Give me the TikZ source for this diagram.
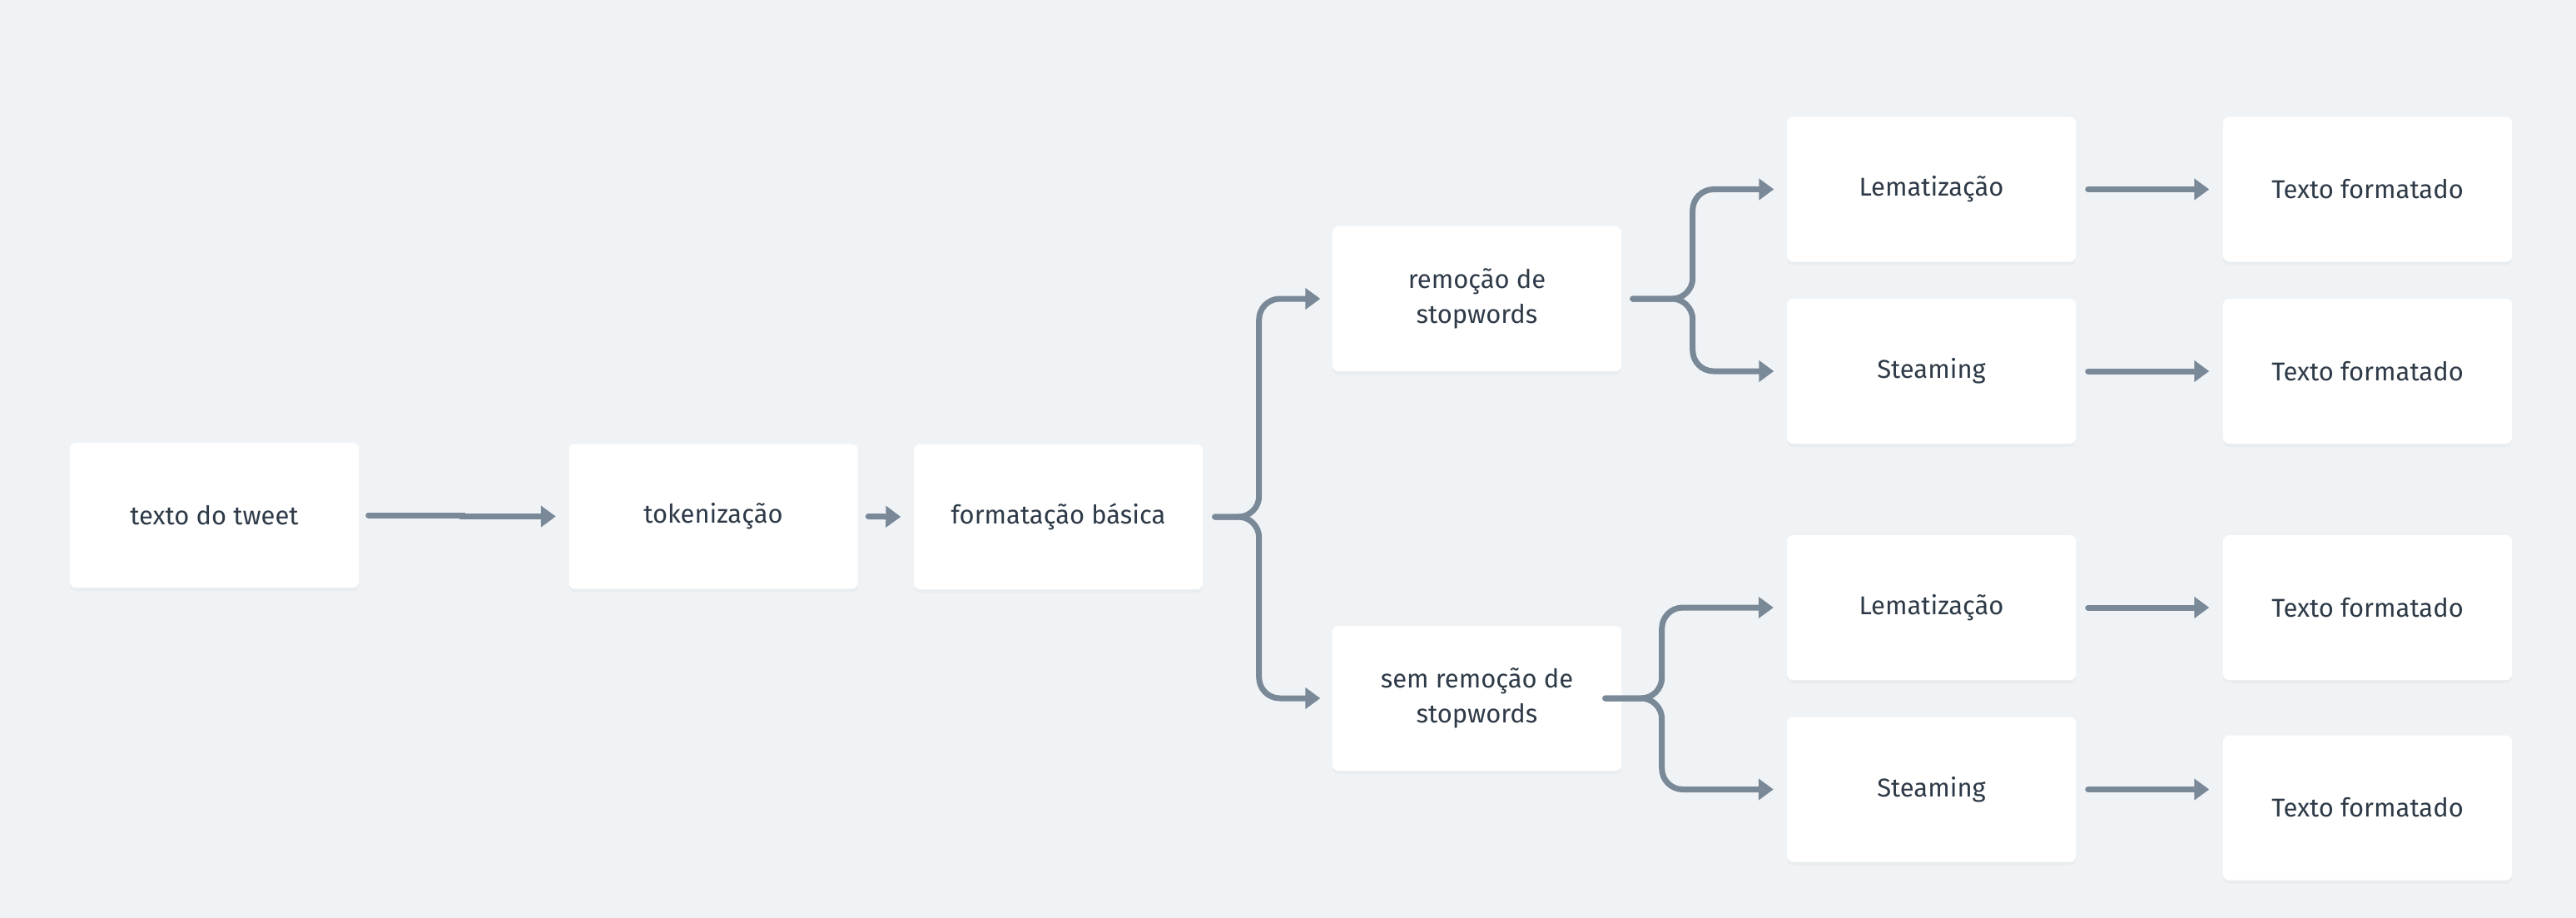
\documentclass[tikz,border=0pt]{standalone}
\usepackage{fontspec}
\setmainfont{Fira Sans}
\usetikzlibrary{arrows.meta, shadows}
\definecolor{bgcol}{HTML}{F0F3F6}
\definecolor{linecol}{HTML}{7A8997}
\definecolor{txtcol}{HTML}{2E3A47}
\begin{document}
\begin{tikzpicture}[
    box/.style={fill=white, rounded corners=0.07cm, minimum width=3.47cm, minimum height=1.74cm,
      inner sep=0pt, align=center, text=txtcol, font=\fontsize{8.8}{12}\selectfont,
      drop shadow={opacity=0.05, shadow xshift=0pt, shadow yshift=-0.04cm}},
    flow/.style={draw=linecol, line width=0.07cm, line cap=round,
      -{Triangle[length=0.18cm, width=0.25cm]}, rounded corners=0.25cm}
  ]
    % background
    \fill[bgcol] (0,0) rectangle (30.95,-11.03);
    \useasboundingbox (0,0) rectangle (30.95,-11.03);
    % boxes
    \node[box] (tweet) at (2.575,-6.19) {texto do tweet};
    \node[box] (token) at (8.57,-6.205) {tokenização};
    \node[box] (fmt) at (12.715,-6.21) {formatação básica};
    \node[box] (rem) at (17.745,-3.59) {remoção de\\stopwords};
    \node[box] (sem) at (17.745,-8.39) {sem remoção de\\stopwords};
    \node[box] (lemA) at (23.205,-2.275) {Lematização};
    \node[box] (steamA) at (23.205,-4.46) {Steaming};
    \node[box] (lemB) at (23.205,-7.30) {Lematização};
    \node[box] (steamB) at (23.205,-9.485) {Steaming};
    \node[box] (outA) at (28.445,-2.275) {Texto formatado};
    \node[box] (outB) at (28.445,-4.46) {Texto formatado};
    \node[box] (outC) at (28.445,-7.30) {Texto formatado};
    \node[box] (outD) at (28.445,-9.705) {Texto formatado};
    \coordinate (endD) at (steamB.east -| outD.west);
    % arrows
    \draw[flow, sharp corners] ([xshift=0.11cm]tweet.east) -- ++(1.13,0) |- ([xshift=-0.15cm]token.west);
    \draw[flow] ([xshift=0.12cm]token.east) -- ([xshift=-0.15cm]fmt.west);
    \draw[flow] ([xshift=0.14cm]fmt.east) -- ++(0.53,0) |- ([xshift=-0.14cm]rem.west);
    \draw[flow] ([xshift=0.14cm]fmt.east) -- ++(0.53,0) |- ([xshift=-0.14cm]sem.west);
    \draw[flow] ([xshift=0.13cm]rem.east) -- ++(0.72,0) |- ([xshift=-0.15cm]lemA.west);
    \draw[flow] ([xshift=0.13cm]rem.east) -- ++(0.72,0) |- ([xshift=-0.15cm]steamA.west);
    \draw[flow] ([xshift=-0.20cm]sem.east) -- ++(0.68,0) |- ([xshift=-0.155cm]lemB.west);
    \draw[flow] ([xshift=-0.20cm]sem.east) -- ++(0.68,0) |- ([xshift=-0.155cm]steamB.west);
    \draw[flow] ([xshift=0.14cm]lemA.east) -- ([xshift=-0.16cm]outA.west);
    \draw[flow] ([xshift=0.14cm]steamA.east) -- ([xshift=-0.16cm]outB.west);
    \draw[flow] ([xshift=0.14cm]lemB.east) -- ([xshift=-0.16cm]outC.west);
    \draw[flow] ([xshift=0.14cm]steamB.east) -- ([xshift=-0.16cm]endD);
\end{tikzpicture}
\end{document}
